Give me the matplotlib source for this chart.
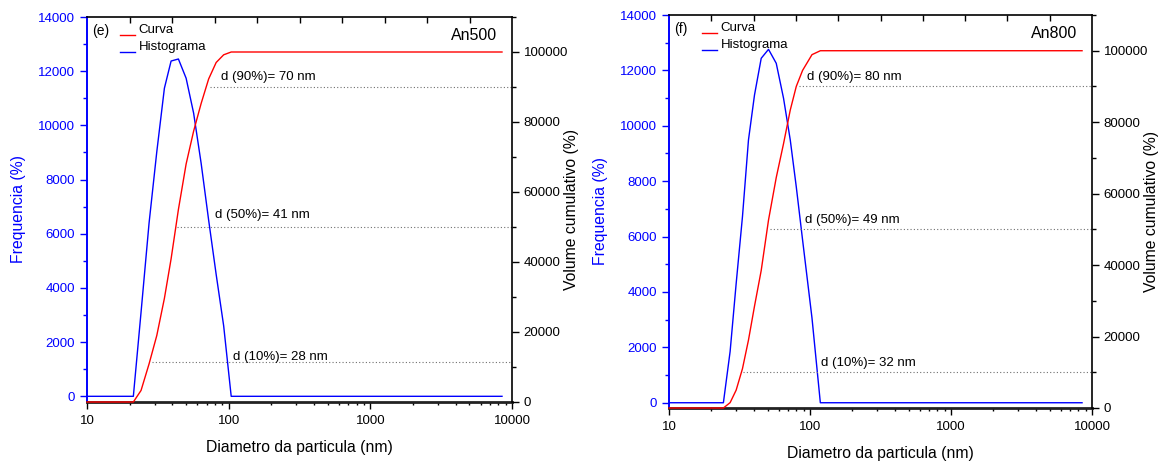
import numpy as np
import matplotlib
matplotlib.use('Agg')
import matplotlib.pyplot as plt
from matplotlib.ticker import MultipleLocator, LogLocator, NullFormatter, FixedLocator
from matplotlib.legend_handler import HandlerLine2D

plt.rcParams['font.family'] = ['Liberation Sans', 'DejaVu Sans']

# ---- data ----
# (e) An500
e_x = [10, 21.24, 24.07, 27.43, 31.09, 35.18, 39.23, 44.18, 50.08, 56.58,
       63.93, 72.23, 81.6, 92.2, 104.2, 8500]
e_hist = [0, 0, 3100, 6400, 9025, 11370, 12375, 12450, 11740, 10450,
          8600, 6500, 4500, 2600, 0, 0]
e_cum = [0, 0, 3300, 10900, 19000, 29600, 40900, 55000, 68000, 77400,
         85300, 92300, 97000, 99200, 100000, 100000]
e_d_start = [28.66, 43.0, 74.0]          # where the dotted guide lines start
e_d_level = [11300, 50000, 90000]
e_d_text = ['d (10%)= 28 nm', 'd (50%)= 41 nm', 'd (90%)= 70 nm']
e_d_text_x = [107.7, 80.3, 88.5]
e_d_text_y = [12770, 53340, 92770]

# (f) An800
f_x = [10, 24.31, 27.13, 29.94, 33.19, 36.61, 40.4, 45.08, 50.79, 57.62,
       64.92, 72.45, 79.9, 88.6, 103.3, 118.4, 8500]
f_hist = [0, 0, 1850, 4300, 6717, 9486, 11111, 12437, 12760, 12256,
          10992, 9486, 7800, 5875, 3058, 0, 0]
f_cum = [0, 0, 1500, 5000, 11000, 19000, 28500, 38500, 52600, 64500,
         74000, 83400, 90000, 94500, 98900, 100000, 100000]
f_d_start = [33.7, 52.3, 83.0]
f_d_level = [10000, 50000, 90000]
f_d_text = ['d (10%)= 32 nm', 'd (50%)= 49 nm', 'd (90%)= 80 nm']
f_d_text_x = [119.7, 92.6, 95.3]
f_d_text_y = [12680, 52620, 92730]

BLUE = '#0000ff'
RED = '#ff0000'
TICK_FS = 9.5
LABEL_FS = 11.3


class BaselineLine(HandlerLine2D):
    # Origin draws the legend sample at the bottom of the text line
    def create_artists(self, legend, orig_handle, xdescent, ydescent,
                       width, height, fontsize, trans):
        arts = super().create_artists(legend, orig_handle, xdescent, ydescent,
                                      width, height, fontsize, trans)
        for a in arts:
            a.set_ydata(np.full(len(a.get_xdata()), -0.15 * height))
        return arts


def draw_panel(fig, rect, x, hist, cum, d_start, d_level, d_text, d_tx, d_ty,
               tag, name, ymin):
    ax = fig.add_axes(rect)
    axr = ax.twinx()

    ax.plot(x, hist, color=BLUE, lw=1.0, label='Histograma', zorder=3)
    axr.plot(x, cum, color=RED, lw=1.0, label='Curva', zorder=3, clip_on=False)

    ax.set_xscale('log')
    ax.set_xlim(10, 10000)
    ax.set_ylim(ymin, 14000)
    axr.set_ylim(0, 110000)

    # dotted guide lines + labels
    for xs, lv, t, tx, ty in zip(d_start, d_level, d_text, d_tx, d_ty):
        axr.hlines(lv, xs, 10000, colors='#707070', linestyles=(0, (1, 2)), lw=0.8)
        axr.text(tx, ty, t, fontsize=9.5, va='center', ha='left')

    # left axis (blue)
    ax.yaxis.set_major_locator(MultipleLocator(2000))
    ax.yaxis.set_minor_locator(MultipleLocator(1000))
    ax.tick_params(axis='y', which='both', colors=BLUE, direction='out',
                   labelsize=TICK_FS, width=1.0)
    ax.tick_params(axis='y', which='major', length=5)
    ax.tick_params(axis='y', which='minor', length=3)
    ax.spines['left'].set_color(BLUE)
    ax.spines['left'].set_linewidth(1.4)
    ax.set_ylabel('Frequencia (%)', color=BLUE, fontsize=LABEL_FS, labelpad=9)

    # bottom axis
    ax.xaxis.set_minor_locator(LogLocator(base=10, subs=np.arange(2, 10), numticks=10))
    ax.xaxis.set_minor_formatter(NullFormatter())
    ax.set_xticks([10, 100, 1000, 10000])
    ax.set_xticklabels(['10', '100', '1000', '10000'])
    ax.tick_params(axis='x', which='both', direction='out', labelsize=TICK_FS,
                   width=1.0, top=False)
    ax.tick_params(axis='x', which='major', length=5, pad=4)
    ax.tick_params(axis='x', which='minor', length=2.5)
    ax.spines['bottom'].set_linewidth(2.0)
    ax.spines['bottom'].set_color('#222222')
    ax.spines['top'].set_linewidth(1.2)
    ax.spines['right'].set_visible(False)
    ax.set_xlabel('Diametro da particula (nm)', fontsize=LABEL_FS, labelpad=10)

    # right axis (cumulative)
    axr.yaxis.set_major_locator(MultipleLocator(20000))
    axr.yaxis.set_minor_locator(MultipleLocator(10000))
    axr.tick_params(axis='y', which='both', direction='out', labelsize=TICK_FS,
                    width=1.0)
    axr.tick_params(axis='y', which='major', length=5)
    axr.tick_params(axis='y', which='minor', length=3)
    axr.spines['left'].set_visible(False)
    axr.spines['bottom'].set_visible(False)
    axr.spines['top'].set_visible(False)
    axr.spines['right'].set_linewidth(1.2)
    axr.set_ylabel('Volume cumulativo (%)', fontsize=LABEL_FS, labelpad=-3)

    # top axis: plain linear ticks pointing inward
    axt = ax.twiny()
    axt.set_xlim(0, 10)
    axt.xaxis.set_major_locator(FixedLocator(np.arange(1, 10)))
    axt.tick_params(axis='x', direction='in', length=4, width=1.0,
                    labeltop=False, bottom=False, labelbottom=False)
    for s in axt.spines.values():
        s.set_visible(False)

    ax.text(0.012, 0.964, tag, transform=ax.transAxes, fontsize=10,
            ha='left', va='center')
    ax.text(0.964, 0.953, name, transform=ax.transAxes, fontsize=11.5,
            ha='right', va='center')

    h1, l1 = axr.get_legend_handles_labels()
    h2, l2 = ax.get_legend_handles_labels()
    leg = axt.legend(h1 + h2, l1 + l2, loc='upper left', bbox_to_anchor=(0.075, 0.985),
                     frameon=False, fontsize=9.5, handlelength=1.15,
                     handletextpad=0.25, labelspacing=0.35, borderpad=0,
                     borderaxespad=0.1,
                     handler_map={matplotlib.lines.Line2D: BaselineLine()})
    leg.set_zorder(10)
    return ax, axr


fig = plt.figure(figsize=(11.65, 4.66), dpi=100)

draw_panel(fig, [87 / 1165, 64 / 466, 425 / 1165, 385 / 466],
           e_x, e_hist, e_cum, e_d_start, e_d_level, e_d_text,
           e_d_text_x, e_d_text_y, '(e)', 'An500', -210)
draw_panel(fig, [669 / 1165, 58 / 466, 423 / 1165, 393 / 466],
           f_x, f_hist, f_cum, f_d_start, f_d_level, f_d_text,
           f_d_text_x, f_d_text_y, '(f)', 'An800', -190)

fig.savefig('out.png', dpi=100)
